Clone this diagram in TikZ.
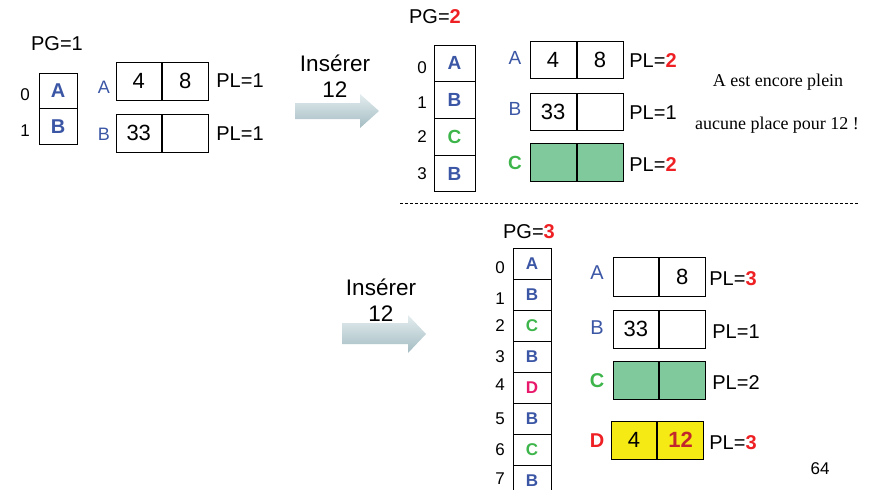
\documentclass[tikz,border=0pt]{standalone}
\usepackage{fontspec}
\setmainfont{Liberation Sans}
\newfontfamily\serifa{Liberation Serif}
\usepackage{xcolor}
\usetikzlibrary{
	positioning,    % nodi relativi (right=0pt of)
	calc
}
\definecolor{blu}{HTML}{3B56A5}
\definecolor{verde}{HTML}{3DB54A}
\definecolor{rosso}{HTML}{EE2024}
\definecolor{rosa}{HTML}{E8196B}
\definecolor{verdecella}{HTML}{7FC99D}
\definecolor{giallo}{HTML}{F5EA14}
\definecolor{rossoscuro}{HTML}{C1272D}
\definecolor{frecciachiara}{HTML}{E4EDEF}
\definecolor{frecciascura}{HTML}{A3BCC2}

\begin{document}
\begin{tikzpicture}[
		x=1pt, y=-1pt,
		testo/.style={font=\fontsize{20}{22}\selectfont, inner sep=0pt},
		inserire/.style={font=\fontsize{22.5}{24}\selectfont, inner sep=0pt},
		indice/.style={font=\fontsize{17}{19}\selectfont, inner sep=0pt},
		lettera/.style={font=\fontsize{18}{20}\selectfont, inner sep=0pt},
		cella/.style={draw, line width=1pt, inner sep=0pt, minimum width=45.5pt,
			minimum height=38pt, font=\fontsize{22}{24}\selectfont},
		cartella/.style={draw, line width=1pt, inner sep=0pt,
			font=\fontsize{20}{22}\selectfont\bfseries},
		freccia/.style={top color=frecciachiara, bottom color=frecciascura, draw=none},
		nota/.style={font=\fontsize{18}{20}\selectfont\serifa, inner sep=0pt}
	]
	\clip (0,0) rectangle (879,490);
	
	% --- Stato iniziale ---
	\node[testo] (pg1) at (57,44) {PG=1};
	\foreach \i/\l/\y in {0/A/90.75, 1/B/126.25}{
		\node[cartella, minimum width=38pt, minimum height=35.5pt, text=blu] (d1\i) at (58,\y) {\l};
		\node[indice] (i1\i) at (25,\y+4) {\i};
	}
	\node[cella] (a1s) at (138.75,81) {4};
	\node[cella, right=0pt of a1s] (a1d) {8};
	\node[cella] (b1s) at (138.75,133) {33};
	\node[cella, right=0pt of b1s] (b1d) {};
	\node[lettera, text=blu] (la1) at (104,87) {A};
	\node[lettera, text=blu] (lb1) at (104,134) {B};
	\node[testo] (pla1) at (240,81) {PL=1};
	\node[testo] (plb1) at (240,134) {PL=1};
	
	% --- Freccia 1 ---
	\shade[freccia] (295,103) -- (360,103) -- (360,94) -- (379,111)
		-- (360,128) -- (360,119) -- (295,119) -- cycle;
	\node[inserire] (ins1) at (335,63) {Insérer};
	\node[inserire] (num1) at (335,90) {12};
	
	% --- Stato PG=2 ---
	\node[testo] (pg2) at (435,17) {PG=\textcolor{rosso}{\bfseries 2}};
	\foreach \i/\l/\c/\y in {0/A/blu/63.4, 1/B/blu/100.1, 2/C/verde/136.9, 3/B/blu/173.6}{
		\node[cartella, minimum width=41pt, minimum height=36.75pt, text=\c,
			font=\fontsize{19}{21}\selectfont\bfseries] (d2\i) at (454.5,\y) {\l};
	}
	\foreach \i/\y in {0/68, 1/103, 2/137, 3/174}{
		\node[indice] (i2\i) at (422,\y) {\i};
	}
	\node[cella, minimum width=46pt, minimum height=37pt] (a2s) at (553,59.5) {4};
	\node[cella, minimum width=46pt, minimum height=37pt, right=0pt of a2s] (a2d) {8};
	\node[cella, minimum width=46pt, minimum height=37pt] (b2s) at (553,111.5) {33};
	\node[cella, minimum width=46pt, minimum height=37pt, right=0pt of b2s] (b2d) {};
	\node[cella, minimum width=46pt, fill=verdecella] (c2s) at (553,162) {};
	\node[cella, minimum width=46pt, fill=verdecella, right=0pt of c2s] (c2d) {};
	\node[lettera, text=blu, font=\fontsize{19}{21}\selectfont] (la2) at (515,58) {A};
	\node[lettera, text=blu, font=\fontsize{19}{21}\selectfont] (lb2) at (515,109) {B};
	\node[lettera, text=verde, font=\fontsize{19}{21}\selectfont\bfseries] (lc2) at (515,163) {C};
	\node[testo] (pla2) at (653,61) {PL=\textcolor{rosso}{\bfseries 2}};
	\node[testo] (plb2) at (653,113) {PL=1};
	\node[testo] (plc2) at (653,165) {PL=\textcolor{rosso}{\bfseries 2}};
	\node[nota] (nota1) at (778,82) {A est encore plein};
	\node[nota] (nota2) at (777,125) {aucune place pour 12 !};
	
	% --- Separazione ---
	\coordinate (sep1) at (400,203);
	\coordinate (sep2) at (858,203);
	\draw[line width=0.6pt, dash pattern=on 3pt off 2pt] (sep1) -- (sep2);
	
	% --- Freccia 2 ---
	\shade[freccia] (342,323) -- (408,323) -- (408,315) -- (426,334)
		-- (408,353) -- (408,344) -- (342,344) -- cycle;
	\node[inserire] (ins2) at (381,287) {Insérer};
	\node[inserire] (num2) at (381,314) {12};
	
	% --- Stato PG=3 ---
	\node[testo] (pg3) at (529,232) {PG=\textcolor{rosso}{\bfseries 3}};
	\foreach \i/\l/\c in {0/A/blu, 1/B/blu, 2/C/verde, 3/B/blu, 4/D/rosa, 5/B/blu, 6/C/verde, 7/B/blu}{
		\node[cartella, minimum width=38pt, minimum height=31pt, text=\c,
			font=\fontsize{17}{19}\selectfont\bfseries] (d3\i) at (532,263.5+31*\i) {\l};
	}
	\foreach \i/\y in {0/268, 1/299, 2/326, 3/357, 4/385, 5/419, 6/450, 7/479}{
		\node[indice] (i3\i) at (500,\y) {\i};
	}
	\node[cella, minimum height=39pt] (a3s) at (635.75,276.5) {};
	\node[cella, minimum height=39pt, right=0pt of a3s] (a3d) {8};
	\node[cella] (b3s) at (635.75,329) {33};
	\node[cella, right=0pt of b3s] (b3d) {};
	\node[cella, fill=verdecella] (c3s) at (635.75,380) {};
	\node[cella, fill=verdecella, right=0pt of c3s] (c3d) {};
	\node[cella, fill=giallo] (d3s) at (634,440) {4};
	\node[cella, fill=giallo, right=0pt of d3s, text=rossoscuro,
		font=\fontsize{22}{24}\selectfont\bfseries] (d3d) {12};
	\node[lettera, text=blu, font=\fontsize{20}{22}\selectfont] (la3) at (597,273) {A};
	\node[lettera, text=blu, font=\fontsize{20}{22}\selectfont] (lb3) at (597,328) {B};
	\node[lettera, text=verde, font=\fontsize{20}{22}\selectfont\bfseries] (lc3) at (597,381) {C};
	\node[lettera, text=rosso, font=\fontsize{20}{22}\selectfont\bfseries] (ld3) at (597,441) {D};
	\node[testo] (pla3) at (733,279) {PL=\textcolor{rosso}{\bfseries 3}};
	\node[testo] (plb3) at (736,332) {PL=1};
	\node[testo] (plc3) at (736,383) {PL=2};
	\node[testo] (pld3) at (733,443) {PL=\textcolor{rosso}{\bfseries 3}};
	\node[testo, font=\fontsize{17}{19}\selectfont] (pag) at (820,469) {64};
	
\end{tikzpicture}
\end{document}
